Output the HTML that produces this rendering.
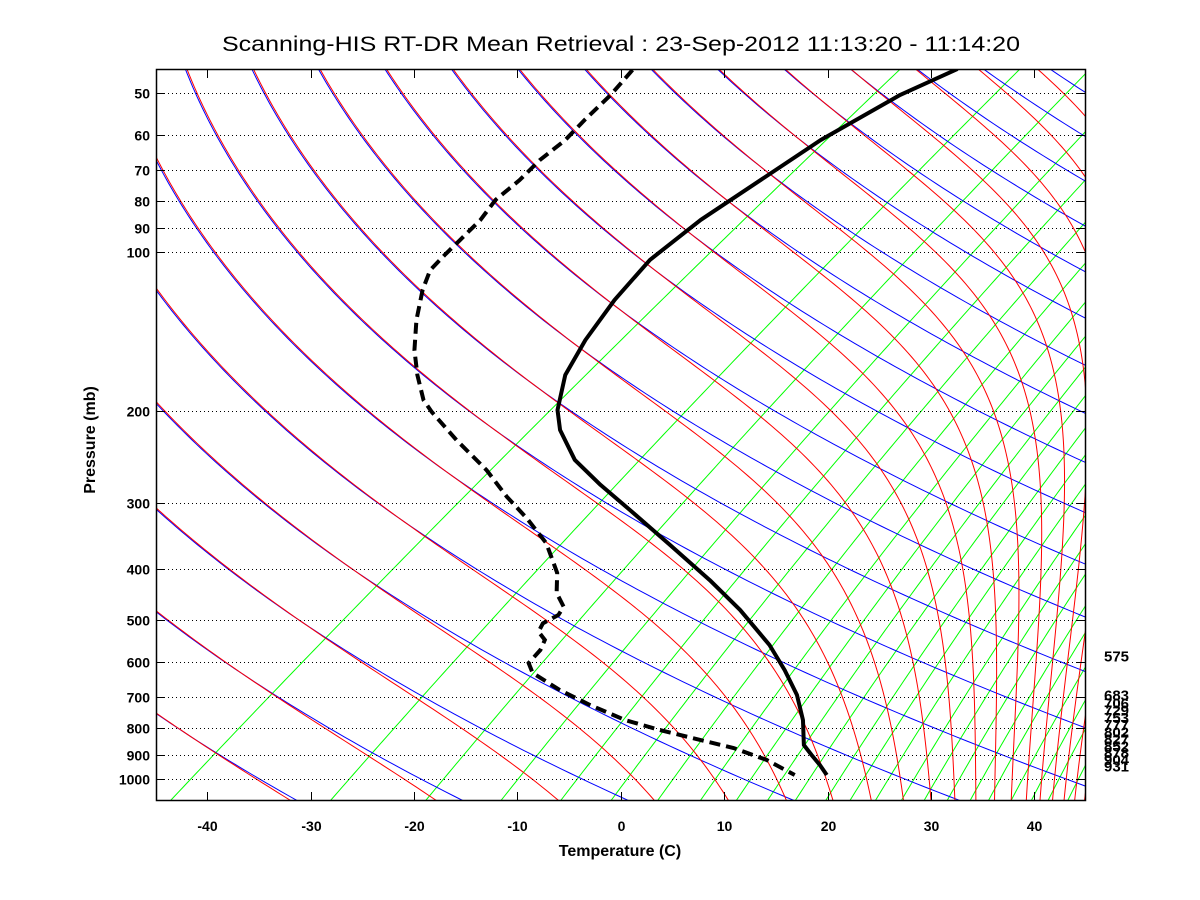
<!DOCTYPE html>
<html><head><meta charset="utf-8"><title>Skew-T</title>
<style>
html,body{margin:0;padding:0;background:#fff;}
svg{display:block;font-family:"Liberation Sans",Arial,sans-serif;}
</style></head>
<body>
<svg id="chart" width="1200" height="900" viewBox="0 0 1200 900" xmlns="http://www.w3.org/2000/svg">
<rect x="0" y="0" width="1200" height="900" fill="#fff"/>
<defs><clipPath id="plotclip"><rect x="156" y="69" width="930" height="732"/></clipPath></defs>
<text x="621" y="51" text-anchor="middle" font-size="21" textLength="798" lengthAdjust="spacingAndGlyphs">Scanning-HIS RT-DR Mean Retrieval : 23-Sep-2012 11:13:20 - 11:14:20</text>
<g id="bg" clip-path="url(#plotclip)"></g>
<g id="grid"></g>
<g id="prof" clip-path="url(#plotclip)"></g>
<g id="axes"></g>
<text x="620" y="856" text-anchor="middle" font-size="16" font-weight="bold">Temperature (C)</text>
<text x="0" y="0" transform="translate(95,440) rotate(-90)" text-anchor="middle" font-size="16" font-weight="bold">Pressure (mb)</text>
</svg>
<script>
// ---- data ----
const tempP = [45.0,50.4,61.4,73.1,87.0,103.6,123.4,147,171.3,199.6,217.8,248.2,276.8,309,359.8,419.5,477.9,557,621.5,693,773,862,901,940.6,982.7];
const tempT = [-61.7,-63.8,-65.5,-66.0,-66.5,-66.1,-64.2,-61.7,-59.0,-55.1,-52.2,-46.8,-41.0,-34.8,-26.3,-17.8,-10.9,-3.4,1.4,5.9,9.8,13.2,15.3,17.4,19.4];
const dewP = [45.2,50.4,56.2,61.4,67.0,73.1,79.7,87.0,95.0,101.4,108.3,118.1,134.7,153.6,171.3,191.0,201.3,227.5,259.4,291.4,320.2,357.1,406.6,443.7,471.1,488.6,506.6,525.6,544.8,569.2,602.6,629.3,678,723.8,773,807.5,843.2,873.5,920.4,982.7];
const dewT = [-93.0,-91.8,-91.0,-90.2,-90.0,-89.3,-89.0,-87.8,-87.1,-86.6,-86.0,-84.1,-80.7,-76.9,-73.3,-69.4,-67.0,-60.9,-54.0,-48.5,-43.7,-38.5,-33.5,-30.9,-28.4,-27.8,-28.2,-27.5,-25.8,-24.9,-24.3,-22.6,-17.7,-12.8,-7.4,-2.7,2.5,6.8,11.6,16.3];
const xTicks = [-40,-30,-20,-10,0,10,20,30,40];
const pTicks = [50,60,70,80,90,100,200,300,400,500,600,700,800,900,1000];
const pLabels = ["50","60","70","80","90","100","200","300","400","500","600","700","800","900","1000"];
const levelP = [575,683,706,729,753,777,802,827,852,878,904,931];
const thetaIdx = [-2,-1,0,1,2,3,4,5,6,7,8,9,10,11,12,13,14,15,16,17,18,19,20,21,22];
const mixW = [0.1,0.45,1.0,1.8,2.8,4,5.5,7.3,9.2,11.2,13.3,16,18.5,21.5,25,28.5,32.5,37,41,46.5,52,57,63.5];

// ---- scales ----
const X0=620.7, XS=10.34, Y0=779, YS=527.2, SKEW=70, PTOP=45, PBOT=1100;
function yP(p){return Y0+YS*Math.log10(p/1000);}
function xT(T,p){return X0+XS*(T+SKEW*Math.log10(1000/p));}
const NS="http://www.w3.org/2000/svg";
function mk(tag,parent,attrs){const e=document.createElementNS(NS,tag);for(const k in attrs)e.setAttribute(k,attrs[k]);parent.appendChild(e);return e;}
function es(T){return 6.112*Math.exp(17.67*T/(T+243.5));}
const pLev=[];for(let i=0;i<=160;i++){pLev.push(PTOP*Math.pow(PBOT/PTOP,i/160));}
function pathFrom(pts){return pts.map((q,i)=>(i?"L":"M")+q[0].toFixed(2)+" "+q[1].toFixed(2)).join(" ");}
function thetaOf(k){return 238.3+15.6*k;}

const bg=document.getElementById('bg');
// mixing ratio lines (green)
mixW.forEach(w=>{
  const pts=pLev.map(p=>{const e=w*p/(622+w);const a=Math.log(e/6.112);const Td=243.5*a/(17.67-a);return [xT(Td,p),yP(p)];});
  const el=mk('path',bg,{d:pathFrom(pts),fill:'none',stroke:'#00ff00','stroke-width':1});
  
  
});
// dry adiabats (blue)
thetaIdx.forEach(k=>{
  const th=thetaOf(k);
  const pts=pLev.map(p=>{const T=th*Math.pow(p/1000,0.2857)-273.15;return [xT(T,p)-0.8,yP(p)];});
  const el=mk('path',bg,{d:pathFrom(pts),fill:'none',stroke:'#0000ff','stroke-width':1});
  
  
});
// moist adiabats / theta-e (red)
function thetaE(TK,p){const e=es(TK-273.15);let ws=e>=p*0.9?10:0.622*e/(p-e);return TK*Math.pow(1000/p,0.2857)*Math.exp(2.5e6*ws/(1004*TK));}
thetaIdx.forEach(k=>{
  const target=thetaOf(k);
  const pts=[];
  pLev.forEach(p=>{
    let lo=120,hi=360;
    if(thetaE(hi,p)<target)return;
    for(let i=0;i<40;i++){const m=(lo+hi)/2;if(thetaE(m,p)<target)lo=m;else hi=m;}
    pts.push([xT((lo+hi)/2-273.15,p)+0.8,yP(p)]);
  });
  if(pts.length<2)return;
  const el=mk('path',bg,{d:pathFrom(pts),fill:'none',stroke:'#ff0000','stroke-width':1});
  
  
});

// gridlines + y ticks
const grid=document.getElementById('grid');
const axes=document.getElementById('axes');
pTicks.forEach((p,i)=>{
  const y=Math.round(yP(p))+0.5;
  const g=mk('line',grid,{x1:156,x2:1086,y1:y,y2:y,stroke:'#000','stroke-width':1,'stroke-dasharray':'1 3'});
  
  
  const t1=mk('line',axes,{x1:156,x2:165,y1:y,y2:y,stroke:'#000','stroke-width':1});
  
  
  const t2=mk('line',axes,{x1:1077,x2:1086,y1:y,y2:y,stroke:'#000','stroke-width':1});
  
  
  const lb=mk('text',axes,{x:150,y:y+5,'text-anchor':'end','font-size':14,'font-weight':'bold'});
  lb.textContent=pLabels[i];
  
  
});
xTicks.forEach(T=>{
  const x=Math.round(X0+XS*T)+0.5;
  const a=mk('line',axes,{x1:x,x2:x,y1:801,y2:792,stroke:'#000','stroke-width':1});
  
  
  const b=mk('line',axes,{x1:x,x2:x,y1:69,y2:78,stroke:'#000','stroke-width':1});
  
  
  const lb=mk('text',axes,{x:x,y:831,'text-anchor':'middle','font-size':14,'font-weight':'bold'});
  lb.textContent=String(T);
  
  
});
const frame=mk('rect',axes,{x:156.5,y:69.5,width:929,height:731,fill:'none',stroke:'#000','stroke-width':1.5});


levelP.forEach(p=>{
  const lb=mk('text',axes,{x:1104,y:yP(p)+9,'font-size':15,'font-weight':'bold'});
  lb.textContent=String(p);
  
  
});

// profiles
const prof=document.getElementById('prof');
const tp=mk('path',prof,{d:pathFrom(tempP.map((p,i)=>[xT(tempT[i],p),yP(p)])),fill:'none',stroke:'#000','stroke-width':4,'stroke-linejoin':'round'});


const dp=mk('path',prof,{d:pathFrom(dewP.map((p,i)=>[xT(dewT[i],p),yP(p)])),fill:'none',stroke:'#000','stroke-width':4,'stroke-dasharray':'11 6'});


</script>
</body></html>
